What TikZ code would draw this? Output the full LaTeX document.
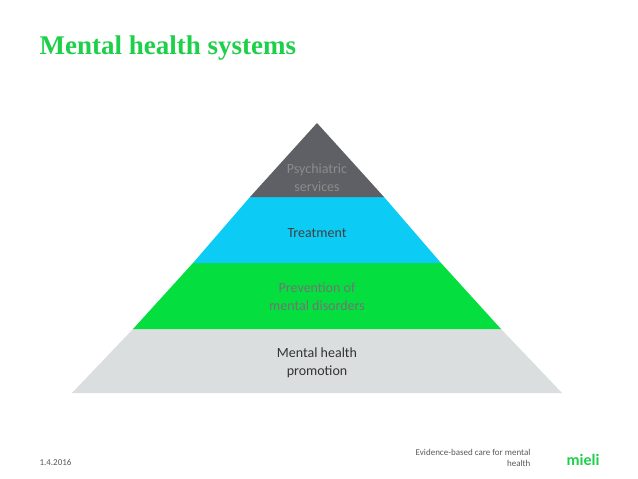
\documentclass[tikz,border=0pt]{standalone}
\usepackage{fontspec}
\setmainfont{Carlito}
\newfontfamily\titlefont{Liberation Serif}
\begin{document}
\begin{tikzpicture}[x=1pt,y=-1pt,
  lbl/.style={align=center,font=\fontsize{14}{18}\selectfont,text=#1},
  foot/.style={font=\fontsize{9}{11}\selectfont,text=black!65}]
\useasboundingbox (0,0) rectangle (638,479);
\definecolor{mgreen}{HTML}{1ECF4A}
\definecolor{lgray}{HTML}{DADEDF}
\definecolor{dgray}{HTML}{5E6065}
\definecolor{cyanL}{HTML}{0CCBF4}
\definecolor{greenL}{HTML}{05DE3F}
\node[anchor=west,font=\titlefont\bfseries\fontsize{27}{30}\selectfont,text=mgreen] (title) at (36,48) {Mental health systems};
\fill[lgray] (72,393) -- (562,393) -- (501,329) -- (133,329) -- cycle;
\fill[greenL] (133,329) -- (501,329) -- (441,263) -- (193,263) -- cycle;
\fill[cyanL] (193,263) -- (441,263) -- (384,197) -- (250,197) -- cycle;
\fill[dgray] (250,197) -- (384,197) -- (317,123) -- cycle;
\node[lbl=black!45] (p) at (317,178) {Psychiatric\\services};
\node[lbl=black!75] (t) at (317,233) {Treatment};
\node[lbl=black!55] (pr) at (317,297) {Prevention of\\mental disorders};
\node[lbl=black!80] (m) at (317,363) {Mental health\\promotion};
\node[foot,anchor=west] (d) at (36,462) {1.4.2016};
\node[foot,align=right,anchor=north east] (e) at (534,446) {Evidence-based care for mental\\health};
\node[font=\bfseries\fontsize{16}{18}\selectfont,text=mgreen] (logo) at (583,460) {mieli};
\end{tikzpicture}
\end{document}
